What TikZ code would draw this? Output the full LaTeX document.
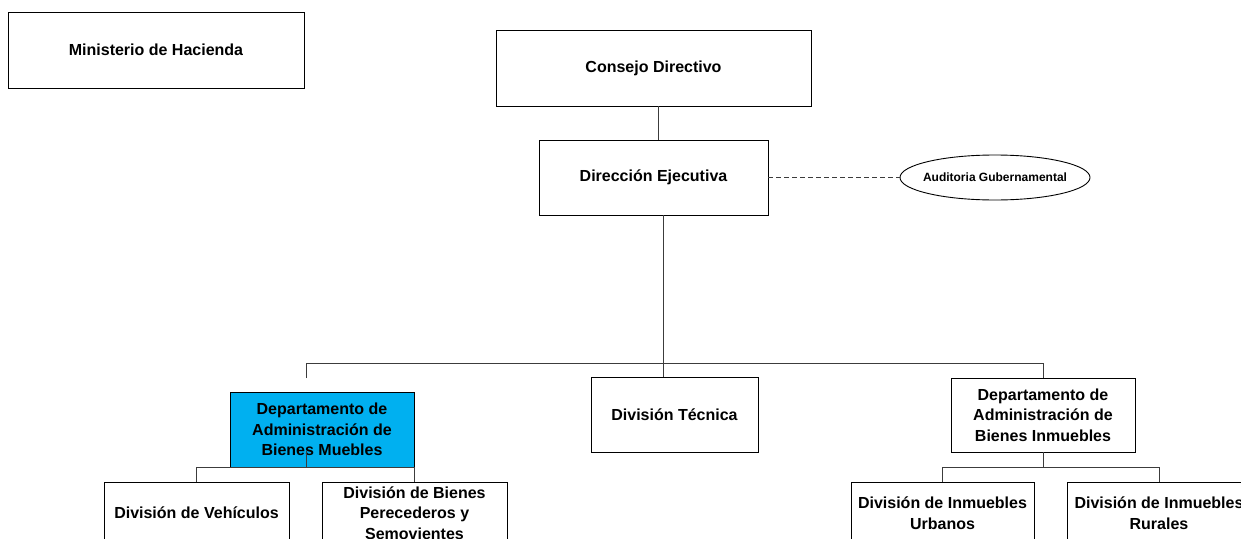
\documentclass[tikz,border=0pt]{standalone}
\usepackage{fontspec}
\setmainfont{Liberation Sans}
\usetikzlibrary{shapes.geometric}
\definecolor{unitblue}{RGB}{0,176,240}
\definecolor{linkgray}{RGB}{60,60,60}
\tikzset{
  unit/.style={draw=black, line width=0.9pt, fill=white, rectangle, inner sep=2pt,
    align=center, font=\fontsize{16}{20.5}\selectfont\bfseries},
  link/.style={draw=linkgray, line width=0.9pt},
  advisory/.style={draw=linkgray, line width=0.9pt, dash pattern=on 5pt off 3pt}
}
\begin{document}
\begin{tikzpicture}[x=1pt,y=-1pt]
\useasboundingbox (0,0) rectangle (1241,538);
\clip (0,0) rectangle (1241,538);
\fill[white] (0,0) rectangle (1241,538);

% top level
\node[unit, minimum width=296pt, minimum height=76pt] (min) at (156,50) {Ministerio de Hacienda};
\node[unit, minimum width=315pt, minimum height=76pt] (cons) at (653.5,68) {Consejo Directivo};
\node[unit, minimum width=229pt, minimum height=75pt] (dir) at (653.5,177.5) {Dirección Ejecutiva};
\node[draw=black, line width=0.9pt, ellipse, minimum width=190pt, minimum height=45pt,
  inner xsep=-6pt, inner ysep=0pt,
  font=\fontsize{12}{14}\selectfont\bfseries] (aud) at (995,177.5) {Auditoria Gubernamental};

% second level
\node[unit, fill=unitblue, minimum width=184pt, minimum height=75pt] (mue) at (322,429.5)
  {Departamento de\\Administración de\\Bienes Muebles};
\node[unit, minimum width=167pt, minimum height=75pt] (tec) at (674.5,414.5) {División Técnica};
\node[unit, minimum width=184pt, minimum height=74pt] (inm) at (1043,415)
  {Departamento de\\Administración de\\Bienes Inmuebles};

% third level
\node[unit, minimum width=185pt, minimum height=62pt] (veh) at (196.5,513) {División de Vehículos};
\node[unit, minimum width=185pt, minimum height=62pt] (per) at (414.5,513)
  {División de Bienes\\Perecederos y\\Semovientes};
\node[unit, minimum width=183pt, minimum height=62pt] (urb) at (942.5,513)
  {División de Inmuebles\\Urbanos};
\node[unit, minimum width=184pt, minimum height=62pt] (rur) at (1159,513)
  {División de Inmuebles\\Rurales};

% connector guide points
\coordinate (xa) at (658,0);
\coordinate (xb) at (663,0);
\coordinate (bus) at (0,363);
\coordinate (mtop) at (306,378);
\coordinate (mstub) at (306,451);
\coordinate (subm) at (0,467);
\coordinate (subi) at (0,467);

% top chain
\draw[link] (cons.south -| xa) -- (dir.north -| xa);
\draw[link] (dir.south -| xb) -- (tec.north -| xb);
\draw[advisory] (dir.east) -- (aud.west);

% main bus
\draw[link] (mtop) -- (bus -| mtop) -- (bus -| inm.north) -- (inm.north);

% Bienes Muebles branch
\draw[link] (mstub) -- (subm -| mstub);
\draw[link] (veh.north) -- (subm -| veh.north) -- (subm -| per.north) -- (per.north);

% Bienes Inmuebles branch
\draw[link] (inm.south) -- (subi -| inm.south);
\draw[link] (urb.north) -- (subi -| urb.north) -- (subi -| rur.north) -- (rur.north);
\end{tikzpicture}
\end{document}
